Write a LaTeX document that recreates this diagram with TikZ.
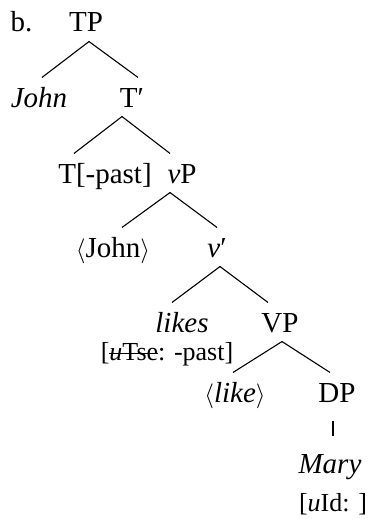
\documentclass[tikz,border=0pt]{standalone}
\usepackage{fontspec}
\setmainfont{Liberation Serif}
\usepackage{tikz}
\newsavebox\strkbox
\newcommand\strk[1]{\sbox\strkbox{#1}\rlap{\rule[0.22em]{\wd\strkbox}{1.2pt}}\usebox\strkbox}

\begin{document}
\begin{tikzpicture}[x=1pt,y=-1pt,line width=1.1pt,
  cat/.style={anchor=base,inner xsep=0pt,inner ysep=9pt,text height=20pt,text depth=0pt,
    font=\fontsize{29}{34}\selectfont},
  feat/.style={anchor=base,inner sep=0pt,font=\fontsize{26}{30}\selectfont}]
  \useasboundingbox (0,0) rectangle (370,519);
  \node[cat,anchor=base west] (ex) at (10,32) {b.};
  \node[cat] (TP) at (86,32) {TP};
  \node[cat] (John) at (39,107) {\textit{John}};
  \node[cat] (Tbar) at (132,107) {T′};
  \node[cat] (T) at (105,183) {T[-past]};
  \node[cat] (vP) at (182,183) {\textit{v}P};
  \node[cat] (Johncopy) at (113,257) {$\langle$John$\rangle$};
  \node[cat] (vbar) at (217,257) {\textit{v}′};
  \node[cat] (likes) at (182,332) {\textit{likes}};
  \node[cat] (VP) at (280,332) {VP};
  \node[feat] (Tse) at (167,360) {[\strk{\textit{u}Tse}: -past]};
  \node[cat] (like) at (235,402) {$\langle$\textit{like}$\rangle$};
  \node[cat] (DP) at (337,402) {DP};
  \node[cat] (Mary) at (330,473) {\textit{Mary}};
  \node[feat] (uId) at (333,511) {[\textit{u}Id: ]};
  % branches
  \draw ([xshift=3pt]TP.south) -- ([xshift=3pt]John.north);
  \draw ([xshift=3pt]TP.south) -- ([xshift=6pt]Tbar.north);
  \draw ([xshift=-10pt]Tbar.south) -- ([xshift=-31pt]T.north);
  \draw ([xshift=-10pt]Tbar.south) -- ([xshift=-12pt]vP.north);
  \draw ([xshift=-12pt]vP.south) -- ([xshift=9pt]Johncopy.north);
  \draw ([xshift=-12pt]vP.south) -- (vbar.north);
  \draw ([xshift=3pt]vbar.south) -- ([xshift=-10pt]likes.north);
  \draw ([xshift=3pt]vbar.south) -- ([xshift=-12pt]VP.north);
  \draw ([xshift=2pt]VP.south) -- ([xshift=-2pt]like.north);
  \draw ([xshift=2pt]VP.south) -- ([xshift=-7pt]DP.north);
  \draw ([xshift=-4pt,yshift=-9pt]DP.south) -- ([xshift=3pt,yshift=7pt]Mary.north);
\end{tikzpicture}
\end{document}
